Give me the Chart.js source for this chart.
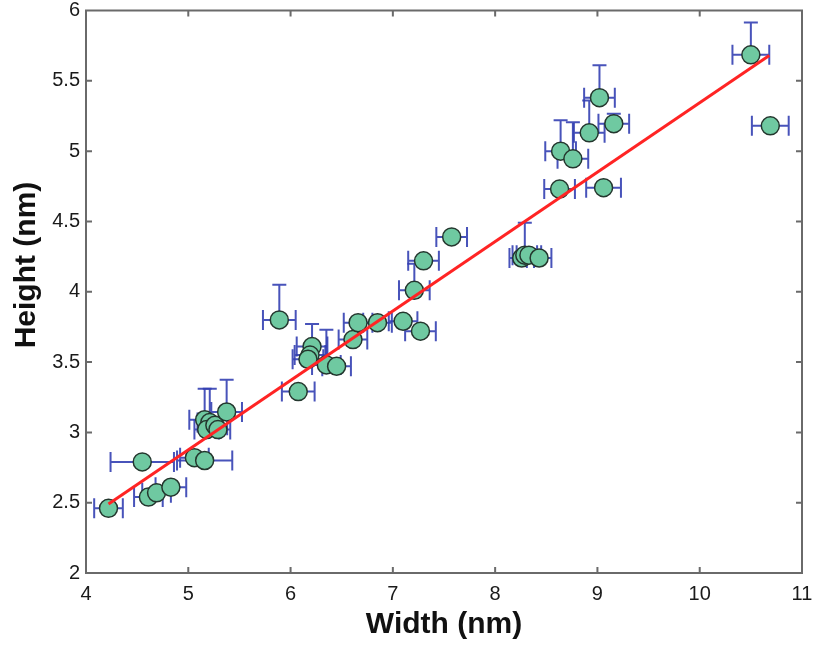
<!DOCTYPE html>
<html>
<head>
<meta charset="utf-8">
<script src="https://cdn.jsdelivr.net/npm/chart.js@4.4.1/dist/chart.umd.min.js"></script>
<style>
    html, body { margin: 0; padding: 0; background: #ffffff; }
    canvas { display: block; }
</style>
</head>
<body>
<canvas id="sizeChart" width="814" height="648"></canvas>
<script>
// Particle measurements (nm)
const widths = [4.22, 4.55, 4.61, 4.69, 4.83, 5.06, 5.16, 5.16, 5.21, 5.18, 5.26, 5.29, 5.375,
                5.89, 6.075, 6.21, 6.19, 6.17, 6.35, 6.45, 6.61, 6.66, 6.85, 7.10, 7.27, 7.21,
                7.30, 7.575, 8.26, 8.29, 8.33, 8.43, 8.63, 8.64, 8.76, 8.92, 9.02, 9.06, 9.16,
                10.50, 10.69];
const heights = [2.46, 2.79, 2.54, 2.57, 2.61, 2.82, 2.80, 3.09, 3.07, 3.02, 3.05, 3.02, 3.145,
                 3.80, 3.29, 3.61, 3.55, 3.52, 3.48, 3.47, 3.66, 3.78, 3.78, 3.79, 3.72, 4.01,
                 4.22, 4.39, 4.24, 4.26, 4.26, 4.24, 4.73, 5.00, 4.945, 5.13, 5.38, 4.74, 5.195,
                 5.685, 5.18];
// horizontal error (+/-) and upper vertical error
const widthErr = [0.14, 0.31, 0.14, 0.14, 0.15, 0.14, 0.27, 0.15, 0.12, 0.12, 0.12, 0.12, 0.15,
                  0.16, 0.16, 0.15, 0.15, 0.15, 0.14, 0.14, 0.14, 0.14, 0.14, 0.14, 0.15, 0.15,
                  0.15, 0.15, 0.12, 0.12, 0.12, 0.12, 0.15, 0.15, 0.15, 0.15, 0.15, 0.17, 0.15,
                  0.18, 0.18];
const heightErrUp = [0, 0, 0, 0, 0, 0, 0, 0.22, 0.24, 0, 0, 0, 0.23,
                     0.25, 0, 0.16, 0, 0, 0.25, 0, 0, 0, 0, 0, 0, 0.19,
                     0, 0, 0, 0.23, 0, 0, 0, 0.22, 0.26, 0.23, 0.23, 0, 0.07,
                     0.23, 0];

// linear fit
const fitX = [4.22, 10.68];
const fitY = [2.49, 5.68];

const xTickValues = [4, 5, 6, 7, 8, 9, 10, 11];
const yTickValues = [2, 2.5, 3, 3.5, 4, 4.5, 5, 5.5, 6];

const points = widths.map((w, i) => ({ x: w, y: heights[i] }));
const fitLine = fitX.map((x, i) => ({ x: x, y: fitY[i] }));

Chart.defaults.font.family = "'Liberation Sans', Arial, sans-serif";

// error bars go underneath the markers
const errorBars = {
    id: 'errorBars',
    beforeDatasetsDraw(chart) {
        const ctx = chart.ctx;
        const xs = chart.scales.x, ys = chart.scales.y;
        ctx.save();
        ctx.strokeStyle = 'rgba(52, 64, 178, 0.9)';
        ctx.lineWidth = 2;
        points.forEach((p, i) => {
            const cy = ys.getPixelForValue(p.y);
            const cx = xs.getPixelForValue(p.x);
            const x0 = xs.getPixelForValue(p.x - widthErr[i]);
            const x1 = xs.getPixelForValue(p.x + widthErr[i]);
            ctx.beginPath();
            ctx.moveTo(x0, cy); ctx.lineTo(x1, cy);
            ctx.moveTo(x0, cy - 10); ctx.lineTo(x0, cy + 10);
            ctx.moveTo(x1, cy - 10); ctx.lineTo(x1, cy + 10);
            if (heightErrUp[i] > 0) {
                const yt = ys.getPixelForValue(p.y + heightErrUp[i]);
                ctx.moveTo(cx, cy); ctx.lineTo(cx, yt);
                ctx.moveTo(cx - 7, yt); ctx.lineTo(cx + 7, yt);
            }
            ctx.stroke();
        });
        ctx.restore();
    }
};

// box around the plot with inward ticks on all sides, plus axis titles
const boxAxes = {
    id: 'boxAxes',
    afterDraw(chart) {
        const ctx = chart.ctx;
        const a = chart.chartArea;
        const xs = chart.scales.x, ys = chart.scales.y;
        const len = 6;
        ctx.save();
        ctx.strokeStyle = '#6a6a6a';
        ctx.lineWidth = 2;
        ctx.strokeRect(a.left, a.top, a.right - a.left, a.bottom - a.top);
        ctx.beginPath();
        xTickValues.slice(1, -1).forEach(v => {
            const px = xs.getPixelForValue(v);
            ctx.moveTo(px, a.bottom); ctx.lineTo(px, a.bottom - len);
            ctx.moveTo(px, a.top); ctx.lineTo(px, a.top + len);
        });
        yTickValues.slice(1, -1).forEach(v => {
            const py = ys.getPixelForValue(v);
            ctx.moveTo(a.left, py); ctx.lineTo(a.left + len, py);
            ctx.moveTo(a.right, py); ctx.lineTo(a.right - len, py);
        });
        ctx.stroke();

        ctx.fillStyle = '#111111';
        ctx.font = "bold 30px 'Liberation Sans', Arial, sans-serif";
        ctx.textAlign = 'center';
        ctx.textBaseline = 'alphabetic';
        ctx.fillText('Width (nm)', (a.left + a.right) / 2, 633);
        ctx.translate(35, 265);
        ctx.rotate(-Math.PI / 2);
        ctx.fillText('Height (nm)', 0, 0);
        ctx.restore();
    }
};

// drop the extra room Chart.js reserves for overhanging end labels
function noLabelPadding(scale) {
    scale.paddingLeft = 0;
    scale.paddingRight = 0;
    scale.paddingTop = 0;
    scale.paddingBottom = 0;
}

new Chart(document.getElementById('sizeChart'), {
    type: 'scatter',
    data: {
        datasets: [
            {
                type: 'line',
                data: fitLine,
                borderColor: '#ff2424',
                borderWidth: 3,
                pointRadius: 0,
                fill: false,
                order: 0
            },
            {
                data: points,
                backgroundColor: '#6fc9a1',
                borderColor: '#24372e',
                borderWidth: 1.5,
                pointRadius: 9,
                order: 1
            }
        ]
    },
    options: {
        responsive: false,
        animation: false,
        layout: { padding: { top: 10, right: 12, left: 0, bottom: 0 } },
        plugins: {
            legend: { display: false },
            tooltip: { enabled: false }
        },
        scales: {
            x: {
                type: 'linear',
                min: 4,
                max: 11,
                afterBuildTicks: scale => { scale.ticks = xTickValues.map(v => ({ value: v })); },
                afterFit: scale => { scale.height = 75; noLabelPadding(scale); },
                grid: { display: false, drawTicks: false },
                border: { display: false },
                ticks: { color: '#1a1a1a', font: { size: 20 }, padding: 9 }
            },
            y: {
                type: 'linear',
                min: 2,
                max: 6,
                afterBuildTicks: scale => { scale.ticks = yTickValues.map(v => ({ value: v })); },
                afterFit: scale => { scale.width = 86; noLabelPadding(scale); },
                grid: { display: false, drawTicks: false },
                border: { display: false },
                ticks: {
                    color: '#1a1a1a',
                    font: { size: 20 },
                    padding: 6,
                    callback: value => String(value)
                }
            }
        }
    },
    plugins: [errorBars, boxAxes]
});
</script>
</body>
</html>
